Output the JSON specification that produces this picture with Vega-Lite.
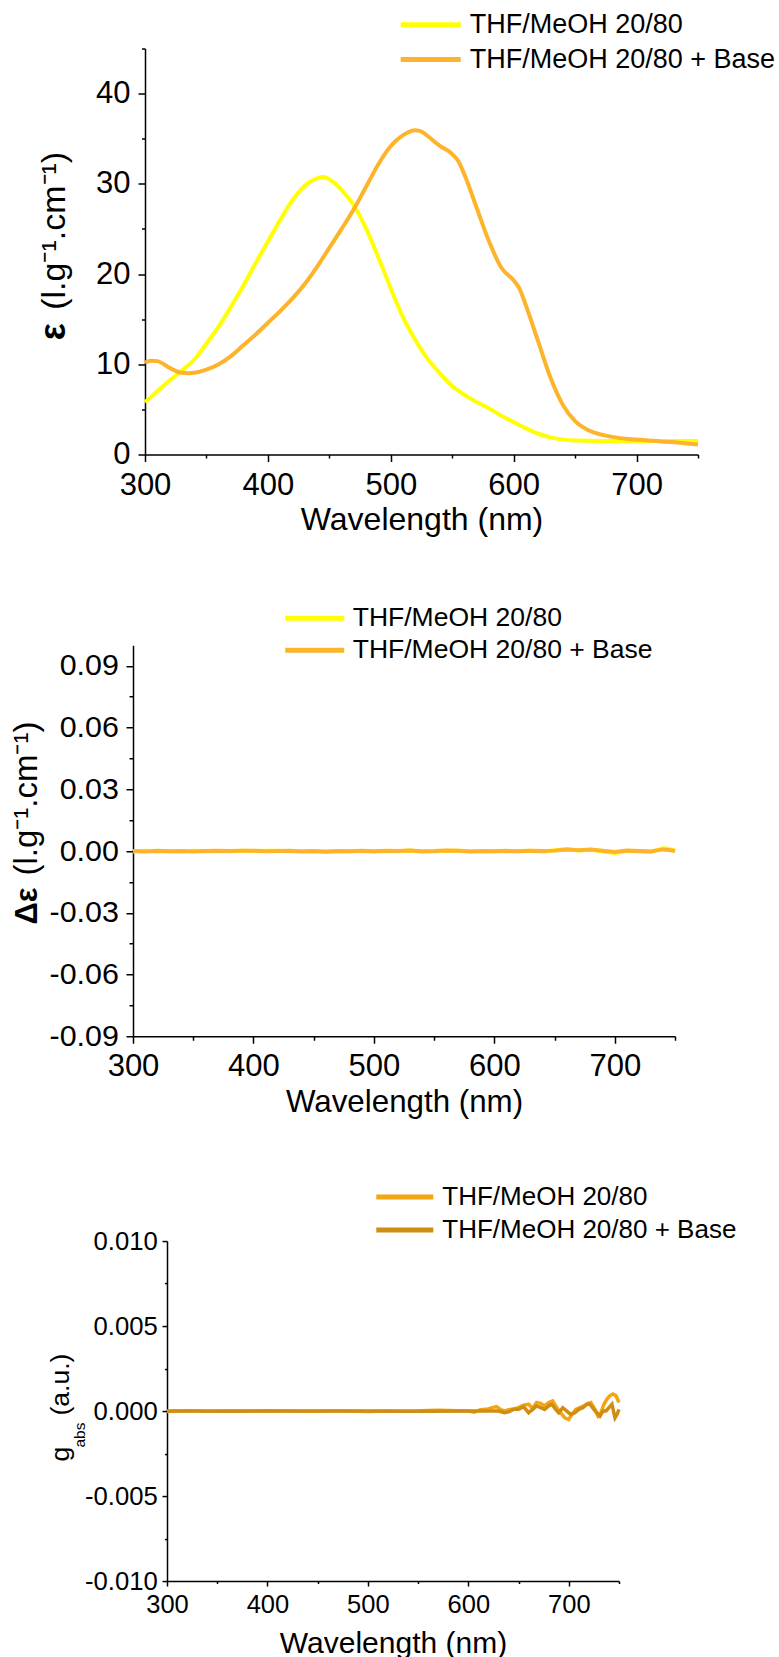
{
  "$schema": "https://vega.github.io/schema/vega-lite/v6.json",
  "background": "white",
  "padding": {"top": 10.5, "left": 0, "right": 0, "bottom": 0},
  "config": {
    "view": {"stroke": null},
    "font": "Liberation Sans",
    "axis": {
      "grid": false,
      "domainColor": "black",
      "domainWidth": 1.5,
      "tickColor": "black",
      "tickWidth": 1.5,
      "labelColor": "black",
      "titleColor": "black",
      "labelFont": "Liberation Sans",
      "titleFont": "Liberation Sans",
      "titleFontWeight": "normal",
      "labelFlush": false,
      "labelOverlap": false
    },
    "legend": {
      "labelFont": "Liberation Sans",
      "labelColor": "black",
      "labelLimit": 600,
      "padding": 0,
      "symbolType": "M-3,0H3",
      "title": null
    }
  },
  "datasets": {
    "eps": [
      {"nm": 300, "sample": "THF/MeOH 20/80", "v": 5.8},
      {"nm": 310, "sample": "THF/MeOH 20/80", "v": 7.0},
      {"nm": 320, "sample": "THF/MeOH 20/80", "v": 8.2},
      {"nm": 330, "sample": "THF/MeOH 20/80", "v": 9.3},
      {"nm": 340, "sample": "THF/MeOH 20/80", "v": 10.5},
      {"nm": 350, "sample": "THF/MeOH 20/80", "v": 12.3},
      {"nm": 360, "sample": "THF/MeOH 20/80", "v": 14.2},
      {"nm": 370, "sample": "THF/MeOH 20/80", "v": 16.4},
      {"nm": 380, "sample": "THF/MeOH 20/80", "v": 18.7},
      {"nm": 390, "sample": "THF/MeOH 20/80", "v": 21.2},
      {"nm": 400, "sample": "THF/MeOH 20/80", "v": 23.6},
      {"nm": 410, "sample": "THF/MeOH 20/80", "v": 26.0},
      {"nm": 420, "sample": "THF/MeOH 20/80", "v": 28.2},
      {"nm": 430, "sample": "THF/MeOH 20/80", "v": 29.8},
      {"nm": 440, "sample": "THF/MeOH 20/80", "v": 30.6},
      {"nm": 445, "sample": "THF/MeOH 20/80", "v": 30.75},
      {"nm": 450, "sample": "THF/MeOH 20/80", "v": 30.5},
      {"nm": 460, "sample": "THF/MeOH 20/80", "v": 29.3},
      {"nm": 470, "sample": "THF/MeOH 20/80", "v": 27.6},
      {"nm": 480, "sample": "THF/MeOH 20/80", "v": 25.0},
      {"nm": 490, "sample": "THF/MeOH 20/80", "v": 21.8},
      {"nm": 500, "sample": "THF/MeOH 20/80", "v": 18.4},
      {"nm": 510, "sample": "THF/MeOH 20/80", "v": 15.2},
      {"nm": 520, "sample": "THF/MeOH 20/80", "v": 12.7},
      {"nm": 530, "sample": "THF/MeOH 20/80", "v": 10.6},
      {"nm": 540, "sample": "THF/MeOH 20/80", "v": 9.0},
      {"nm": 550, "sample": "THF/MeOH 20/80", "v": 7.6},
      {"nm": 560, "sample": "THF/MeOH 20/80", "v": 6.6},
      {"nm": 570, "sample": "THF/MeOH 20/80", "v": 5.8},
      {"nm": 580, "sample": "THF/MeOH 20/80", "v": 5.1},
      {"nm": 590, "sample": "THF/MeOH 20/80", "v": 4.3},
      {"nm": 600, "sample": "THF/MeOH 20/80", "v": 3.6},
      {"nm": 610, "sample": "THF/MeOH 20/80", "v": 2.9},
      {"nm": 620, "sample": "THF/MeOH 20/80", "v": 2.3},
      {"nm": 630, "sample": "THF/MeOH 20/80", "v": 1.9},
      {"nm": 640, "sample": "THF/MeOH 20/80", "v": 1.65},
      {"nm": 650, "sample": "THF/MeOH 20/80", "v": 1.55},
      {"nm": 670, "sample": "THF/MeOH 20/80", "v": 1.5},
      {"nm": 700, "sample": "THF/MeOH 20/80", "v": 1.5},
      {"nm": 750, "sample": "THF/MeOH 20/80", "v": 1.5},
      {"nm": 300, "sample": "THF/MeOH 20/80 + Base", "v": 10.2},
      {"nm": 305, "sample": "THF/MeOH 20/80 + Base", "v": 10.4},
      {"nm": 310, "sample": "THF/MeOH 20/80 + Base", "v": 10.35},
      {"nm": 320, "sample": "THF/MeOH 20/80 + Base", "v": 9.6},
      {"nm": 330, "sample": "THF/MeOH 20/80 + Base", "v": 9.05},
      {"nm": 335, "sample": "THF/MeOH 20/80 + Base", "v": 9.0},
      {"nm": 340, "sample": "THF/MeOH 20/80 + Base", "v": 9.05},
      {"nm": 350, "sample": "THF/MeOH 20/80 + Base", "v": 9.4},
      {"nm": 360, "sample": "THF/MeOH 20/80 + Base", "v": 10.0},
      {"nm": 370, "sample": "THF/MeOH 20/80 + Base", "v": 10.9},
      {"nm": 380, "sample": "THF/MeOH 20/80 + Base", "v": 12.1},
      {"nm": 390, "sample": "THF/MeOH 20/80 + Base", "v": 13.3},
      {"nm": 400, "sample": "THF/MeOH 20/80 + Base", "v": 14.6},
      {"nm": 410, "sample": "THF/MeOH 20/80 + Base", "v": 15.9},
      {"nm": 420, "sample": "THF/MeOH 20/80 + Base", "v": 17.3},
      {"nm": 430, "sample": "THF/MeOH 20/80 + Base", "v": 18.9},
      {"nm": 440, "sample": "THF/MeOH 20/80 + Base", "v": 20.8},
      {"nm": 450, "sample": "THF/MeOH 20/80 + Base", "v": 22.9},
      {"nm": 460, "sample": "THF/MeOH 20/80 + Base", "v": 25.0},
      {"nm": 470, "sample": "THF/MeOH 20/80 + Base", "v": 27.2},
      {"nm": 480, "sample": "THF/MeOH 20/80 + Base", "v": 29.7},
      {"nm": 490, "sample": "THF/MeOH 20/80 + Base", "v": 32.2},
      {"nm": 500, "sample": "THF/MeOH 20/80 + Base", "v": 34.2},
      {"nm": 510, "sample": "THF/MeOH 20/80 + Base", "v": 35.4},
      {"nm": 520, "sample": "THF/MeOH 20/80 + Base", "v": 35.95},
      {"nm": 525, "sample": "THF/MeOH 20/80 + Base", "v": 35.8},
      {"nm": 530, "sample": "THF/MeOH 20/80 + Base", "v": 35.3},
      {"nm": 540, "sample": "THF/MeOH 20/80 + Base", "v": 34.2},
      {"nm": 550, "sample": "THF/MeOH 20/80 + Base", "v": 33.3},
      {"nm": 555, "sample": "THF/MeOH 20/80 + Base", "v": 32.5},
      {"nm": 560, "sample": "THF/MeOH 20/80 + Base", "v": 31.0},
      {"nm": 570, "sample": "THF/MeOH 20/80 + Base", "v": 27.3},
      {"nm": 580, "sample": "THF/MeOH 20/80 + Base", "v": 23.6},
      {"nm": 590, "sample": "THF/MeOH 20/80 + Base", "v": 20.7},
      {"nm": 600, "sample": "THF/MeOH 20/80 + Base", "v": 19.3},
      {"nm": 605, "sample": "THF/MeOH 20/80 + Base", "v": 18.3},
      {"nm": 610, "sample": "THF/MeOH 20/80 + Base", "v": 16.5},
      {"nm": 620, "sample": "THF/MeOH 20/80 + Base", "v": 12.5},
      {"nm": 630, "sample": "THF/MeOH 20/80 + Base", "v": 8.5},
      {"nm": 640, "sample": "THF/MeOH 20/80 + Base", "v": 5.5},
      {"nm": 650, "sample": "THF/MeOH 20/80 + Base", "v": 3.7},
      {"nm": 660, "sample": "THF/MeOH 20/80 + Base", "v": 2.75},
      {"nm": 670, "sample": "THF/MeOH 20/80 + Base", "v": 2.25},
      {"nm": 680, "sample": "THF/MeOH 20/80 + Base", "v": 1.95},
      {"nm": 700, "sample": "THF/MeOH 20/80 + Base", "v": 1.65},
      {"nm": 720, "sample": "THF/MeOH 20/80 + Base", "v": 1.45},
      {"nm": 735, "sample": "THF/MeOH 20/80 + Base", "v": 1.3},
      {"nm": 750, "sample": "THF/MeOH 20/80 + Base", "v": 1.1}
    ],
    "deps": [
      {"nm": 300, "sample": "THF/MeOH 20/80", "v": -0.0002},
      {"nm": 310, "sample": "THF/MeOH 20/80", "v": 0.0001},
      {"nm": 320, "sample": "THF/MeOH 20/80", "v": -0.0003},
      {"nm": 330, "sample": "THF/MeOH 20/80", "v": 0.0},
      {"nm": 340, "sample": "THF/MeOH 20/80", "v": -0.0002},
      {"nm": 350, "sample": "THF/MeOH 20/80", "v": 0.0001},
      {"nm": 360, "sample": "THF/MeOH 20/80", "v": -0.0001},
      {"nm": 370, "sample": "THF/MeOH 20/80", "v": 0.0},
      {"nm": 380, "sample": "THF/MeOH 20/80", "v": -0.0002},
      {"nm": 390, "sample": "THF/MeOH 20/80", "v": 0.0002},
      {"nm": 400, "sample": "THF/MeOH 20/80", "v": 0.0},
      {"nm": 410, "sample": "THF/MeOH 20/80", "v": 0.0001},
      {"nm": 420, "sample": "THF/MeOH 20/80", "v": 0.0002},
      {"nm": 430, "sample": "THF/MeOH 20/80", "v": -0.0001},
      {"nm": 440, "sample": "THF/MeOH 20/80", "v": 0.0},
      {"nm": 450, "sample": "THF/MeOH 20/80", "v": -0.0003},
      {"nm": 460, "sample": "THF/MeOH 20/80", "v": -0.0001},
      {"nm": 470, "sample": "THF/MeOH 20/80", "v": -0.0002},
      {"nm": 480, "sample": "THF/MeOH 20/80", "v": 0.0},
      {"nm": 490, "sample": "THF/MeOH 20/80", "v": -0.0001},
      {"nm": 500, "sample": "THF/MeOH 20/80", "v": -0.0002},
      {"nm": 510, "sample": "THF/MeOH 20/80", "v": 0.0},
      {"nm": 520, "sample": "THF/MeOH 20/80", "v": -0.0001},
      {"nm": 530, "sample": "THF/MeOH 20/80", "v": 0.0002},
      {"nm": 540, "sample": "THF/MeOH 20/80", "v": -0.0003},
      {"nm": 550, "sample": "THF/MeOH 20/80", "v": -0.0002},
      {"nm": 560, "sample": "THF/MeOH 20/80", "v": 0.0001},
      {"nm": 570, "sample": "THF/MeOH 20/80", "v": 0.0002},
      {"nm": 580, "sample": "THF/MeOH 20/80", "v": -0.0001},
      {"nm": 590, "sample": "THF/MeOH 20/80", "v": -0.0002},
      {"nm": 600, "sample": "THF/MeOH 20/80", "v": 0.0},
      {"nm": 610, "sample": "THF/MeOH 20/80", "v": -0.0002},
      {"nm": 620, "sample": "THF/MeOH 20/80", "v": 0.0},
      {"nm": 630, "sample": "THF/MeOH 20/80", "v": 0.0001},
      {"nm": 640, "sample": "THF/MeOH 20/80", "v": -0.0003},
      {"nm": 650, "sample": "THF/MeOH 20/80", "v": 0.0004},
      {"nm": 660, "sample": "THF/MeOH 20/80", "v": 0.001},
      {"nm": 670, "sample": "THF/MeOH 20/80", "v": 0.0003},
      {"nm": 680, "sample": "THF/MeOH 20/80", "v": 0.0006},
      {"nm": 690, "sample": "THF/MeOH 20/80", "v": -0.0002},
      {"nm": 700, "sample": "THF/MeOH 20/80", "v": -0.001},
      {"nm": 710, "sample": "THF/MeOH 20/80", "v": 0.0},
      {"nm": 720, "sample": "THF/MeOH 20/80", "v": -0.0002},
      {"nm": 730, "sample": "THF/MeOH 20/80", "v": -0.0004},
      {"nm": 740, "sample": "THF/MeOH 20/80", "v": 0.0014},
      {"nm": 745, "sample": "THF/MeOH 20/80", "v": 0.0011},
      {"nm": 750, "sample": "THF/MeOH 20/80", "v": 0.0002},
      {"nm": 300, "sample": "THF/MeOH 20/80 + Base", "v": 0.0},
      {"nm": 310, "sample": "THF/MeOH 20/80 + Base", "v": -0.0002},
      {"nm": 320, "sample": "THF/MeOH 20/80 + Base", "v": 0.0001},
      {"nm": 330, "sample": "THF/MeOH 20/80 + Base", "v": -0.0001},
      {"nm": 340, "sample": "THF/MeOH 20/80 + Base", "v": 0.0},
      {"nm": 350, "sample": "THF/MeOH 20/80 + Base", "v": -0.0002},
      {"nm": 360, "sample": "THF/MeOH 20/80 + Base", "v": 0.0},
      {"nm": 370, "sample": "THF/MeOH 20/80 + Base", "v": 0.0002},
      {"nm": 380, "sample": "THF/MeOH 20/80 + Base", "v": 0.0},
      {"nm": 390, "sample": "THF/MeOH 20/80 + Base", "v": 0.0001},
      {"nm": 400, "sample": "THF/MeOH 20/80 + Base", "v": 0.0002},
      {"nm": 410, "sample": "THF/MeOH 20/80 + Base", "v": -0.0001},
      {"nm": 420, "sample": "THF/MeOH 20/80 + Base", "v": 0.0},
      {"nm": 430, "sample": "THF/MeOH 20/80 + Base", "v": 0.0001},
      {"nm": 440, "sample": "THF/MeOH 20/80 + Base", "v": -0.0002},
      {"nm": 450, "sample": "THF/MeOH 20/80 + Base", "v": 0.0},
      {"nm": 460, "sample": "THF/MeOH 20/80 + Base", "v": -0.0003},
      {"nm": 470, "sample": "THF/MeOH 20/80 + Base", "v": 0.0},
      {"nm": 480, "sample": "THF/MeOH 20/80 + Base", "v": -0.0001},
      {"nm": 490, "sample": "THF/MeOH 20/80 + Base", "v": 0.0001},
      {"nm": 500, "sample": "THF/MeOH 20/80 + Base", "v": -0.0001},
      {"nm": 510, "sample": "THF/MeOH 20/80 + Base", "v": 0.0001},
      {"nm": 520, "sample": "THF/MeOH 20/80 + Base", "v": 0.0},
      {"nm": 530, "sample": "THF/MeOH 20/80 + Base", "v": 0.0003},
      {"nm": 540, "sample": "THF/MeOH 20/80 + Base", "v": -0.0001},
      {"nm": 550, "sample": "THF/MeOH 20/80 + Base", "v": 0.0},
      {"nm": 560, "sample": "THF/MeOH 20/80 + Base", "v": 0.0003},
      {"nm": 570, "sample": "THF/MeOH 20/80 + Base", "v": 0.0001},
      {"nm": 580, "sample": "THF/MeOH 20/80 + Base", "v": -0.0002},
      {"nm": 590, "sample": "THF/MeOH 20/80 + Base", "v": 0.0},
      {"nm": 600, "sample": "THF/MeOH 20/80 + Base", "v": -0.0001},
      {"nm": 610, "sample": "THF/MeOH 20/80 + Base", "v": 0.0001},
      {"nm": 620, "sample": "THF/MeOH 20/80 + Base", "v": -0.0001},
      {"nm": 630, "sample": "THF/MeOH 20/80 + Base", "v": 0.0002},
      {"nm": 640, "sample": "THF/MeOH 20/80 + Base", "v": 0.0},
      {"nm": 650, "sample": "THF/MeOH 20/80 + Base", "v": 0.0002},
      {"nm": 660, "sample": "THF/MeOH 20/80 + Base", "v": 0.0008},
      {"nm": 670, "sample": "THF/MeOH 20/80 + Base", "v": 0.0004},
      {"nm": 680, "sample": "THF/MeOH 20/80 + Base", "v": 0.0007},
      {"nm": 690, "sample": "THF/MeOH 20/80 + Base", "v": 0.0001},
      {"nm": 700, "sample": "THF/MeOH 20/80 + Base", "v": -0.0005},
      {"nm": 710, "sample": "THF/MeOH 20/80 + Base", "v": 0.0002},
      {"nm": 720, "sample": "THF/MeOH 20/80 + Base", "v": 0.0},
      {"nm": 730, "sample": "THF/MeOH 20/80 + Base", "v": -0.0002},
      {"nm": 740, "sample": "THF/MeOH 20/80 + Base", "v": 0.0008},
      {"nm": 745, "sample": "THF/MeOH 20/80 + Base", "v": 0.0005},
      {"nm": 750, "sample": "THF/MeOH 20/80 + Base", "v": 0.0}
    ],
    "gabs": [
      {"nm": 300, "sample": "THF/MeOH 20/80", "v": -0.00002},
      {"nm": 320, "sample": "THF/MeOH 20/80", "v": 0.00002},
      {"nm": 340, "sample": "THF/MeOH 20/80", "v": -0.00001},
      {"nm": 360, "sample": "THF/MeOH 20/80", "v": 0.00002},
      {"nm": 380, "sample": "THF/MeOH 20/80", "v": 0.0},
      {"nm": 400, "sample": "THF/MeOH 20/80", "v": 0.00002},
      {"nm": 420, "sample": "THF/MeOH 20/80", "v": 0.00001},
      {"nm": 440, "sample": "THF/MeOH 20/80", "v": -0.00001},
      {"nm": 460, "sample": "THF/MeOH 20/80", "v": 0.0},
      {"nm": 480, "sample": "THF/MeOH 20/80", "v": 0.00001},
      {"nm": 500, "sample": "THF/MeOH 20/80", "v": -0.00002},
      {"nm": 520, "sample": "THF/MeOH 20/80", "v": 0.0},
      {"nm": 540, "sample": "THF/MeOH 20/80", "v": -0.00001},
      {"nm": 560, "sample": "THF/MeOH 20/80", "v": 0.00003},
      {"nm": 570, "sample": "THF/MeOH 20/80", "v": 0.00005},
      {"nm": 580, "sample": "THF/MeOH 20/80", "v": 0.00003},
      {"nm": 590, "sample": "THF/MeOH 20/80", "v": 0.00002},
      {"nm": 600, "sample": "THF/MeOH 20/80", "v": 0.0},
      {"nm": 606, "sample": "THF/MeOH 20/80", "v": -0.00006},
      {"nm": 612, "sample": "THF/MeOH 20/80", "v": 0.00008},
      {"nm": 618, "sample": "THF/MeOH 20/80", "v": 0.0001},
      {"nm": 624, "sample": "THF/MeOH 20/80", "v": 0.0002},
      {"nm": 628, "sample": "THF/MeOH 20/80", "v": 0.00026},
      {"nm": 632, "sample": "THF/MeOH 20/80", "v": 0.0001},
      {"nm": 636, "sample": "THF/MeOH 20/80", "v": 0.0},
      {"nm": 640, "sample": "THF/MeOH 20/80", "v": 0.00008},
      {"nm": 645, "sample": "THF/MeOH 20/80", "v": 0.00012},
      {"nm": 650, "sample": "THF/MeOH 20/80", "v": 0.0002},
      {"nm": 655, "sample": "THF/MeOH 20/80", "v": 0.00035},
      {"nm": 660, "sample": "THF/MeOH 20/80", "v": 0.0004},
      {"nm": 664, "sample": "THF/MeOH 20/80", "v": 0.00015},
      {"nm": 668, "sample": "THF/MeOH 20/80", "v": 0.0005},
      {"nm": 672, "sample": "THF/MeOH 20/80", "v": 0.00045},
      {"nm": 676, "sample": "THF/MeOH 20/80", "v": 0.0003},
      {"nm": 680, "sample": "THF/MeOH 20/80", "v": 0.0005},
      {"nm": 684, "sample": "THF/MeOH 20/80", "v": 0.0006},
      {"nm": 688, "sample": "THF/MeOH 20/80", "v": 0.0002},
      {"nm": 692, "sample": "THF/MeOH 20/80", "v": -0.0001},
      {"nm": 696, "sample": "THF/MeOH 20/80", "v": -0.0004},
      {"nm": 700, "sample": "THF/MeOH 20/80", "v": -0.0005},
      {"nm": 703, "sample": "THF/MeOH 20/80", "v": -0.0002},
      {"nm": 707, "sample": "THF/MeOH 20/80", "v": 0.0001},
      {"nm": 711, "sample": "THF/MeOH 20/80", "v": 0.0002},
      {"nm": 715, "sample": "THF/MeOH 20/80", "v": 0.0003},
      {"nm": 719, "sample": "THF/MeOH 20/80", "v": 0.00045},
      {"nm": 722, "sample": "THF/MeOH 20/80", "v": 0.0005},
      {"nm": 726, "sample": "THF/MeOH 20/80", "v": 0.0001},
      {"nm": 729, "sample": "THF/MeOH 20/80", "v": -0.0003},
      {"nm": 732, "sample": "THF/MeOH 20/80", "v": -0.0001},
      {"nm": 735, "sample": "THF/MeOH 20/80", "v": 0.0004},
      {"nm": 738, "sample": "THF/MeOH 20/80", "v": 0.0007},
      {"nm": 741, "sample": "THF/MeOH 20/80", "v": 0.0009},
      {"nm": 744, "sample": "THF/MeOH 20/80", "v": 0.001},
      {"nm": 747, "sample": "THF/MeOH 20/80", "v": 0.0009},
      {"nm": 750, "sample": "THF/MeOH 20/80", "v": 0.0005},
      {"nm": 300, "sample": "THF/MeOH 20/80 + Base", "v": 0.0},
      {"nm": 330, "sample": "THF/MeOH 20/80 + Base", "v": 0.00001},
      {"nm": 360, "sample": "THF/MeOH 20/80 + Base", "v": -0.00001},
      {"nm": 400, "sample": "THF/MeOH 20/80 + Base", "v": 0.00001},
      {"nm": 450, "sample": "THF/MeOH 20/80 + Base", "v": 0.0},
      {"nm": 500, "sample": "THF/MeOH 20/80 + Base", "v": 0.00001},
      {"nm": 550, "sample": "THF/MeOH 20/80 + Base", "v": -0.00001},
      {"nm": 600, "sample": "THF/MeOH 20/80 + Base", "v": 0.0},
      {"nm": 620, "sample": "THF/MeOH 20/80 + Base", "v": 0.00001},
      {"nm": 630, "sample": "THF/MeOH 20/80 + Base", "v": 0.0},
      {"nm": 636, "sample": "THF/MeOH 20/80 + Base", "v": -0.0001},
      {"nm": 640, "sample": "THF/MeOH 20/80 + Base", "v": -0.00005},
      {"nm": 645, "sample": "THF/MeOH 20/80 + Base", "v": 0.0001},
      {"nm": 650, "sample": "THF/MeOH 20/80 + Base", "v": 0.0001},
      {"nm": 655, "sample": "THF/MeOH 20/80 + Base", "v": 0.00025},
      {"nm": 660, "sample": "THF/MeOH 20/80 + Base", "v": -0.0001},
      {"nm": 664, "sample": "THF/MeOH 20/80 + Base", "v": 0.0001},
      {"nm": 668, "sample": "THF/MeOH 20/80 + Base", "v": 0.0003},
      {"nm": 672, "sample": "THF/MeOH 20/80 + Base", "v": 0.0002},
      {"nm": 676, "sample": "THF/MeOH 20/80 + Base", "v": 0.0001},
      {"nm": 680, "sample": "THF/MeOH 20/80 + Base", "v": 0.0003},
      {"nm": 683, "sample": "THF/MeOH 20/80 + Base", "v": 0.0004},
      {"nm": 687, "sample": "THF/MeOH 20/80 + Base", "v": 0.0001},
      {"nm": 690, "sample": "THF/MeOH 20/80 + Base", "v": -0.0001},
      {"nm": 694, "sample": "THF/MeOH 20/80 + Base", "v": 0.0002},
      {"nm": 698, "sample": "THF/MeOH 20/80 + Base", "v": 0.0},
      {"nm": 702, "sample": "THF/MeOH 20/80 + Base", "v": -0.0002},
      {"nm": 706, "sample": "THF/MeOH 20/80 + Base", "v": -0.0001},
      {"nm": 710, "sample": "THF/MeOH 20/80 + Base", "v": 0.0001},
      {"nm": 714, "sample": "THF/MeOH 20/80 + Base", "v": 0.0002},
      {"nm": 718, "sample": "THF/MeOH 20/80 + Base", "v": 0.0004},
      {"nm": 721, "sample": "THF/MeOH 20/80 + Base", "v": 0.0004},
      {"nm": 725, "sample": "THF/MeOH 20/80 + Base", "v": 0.0001},
      {"nm": 728, "sample": "THF/MeOH 20/80 + Base", "v": -0.0001},
      {"nm": 731, "sample": "THF/MeOH 20/80 + Base", "v": -0.0003},
      {"nm": 734, "sample": "THF/MeOH 20/80 + Base", "v": 0.0},
      {"nm": 737, "sample": "THF/MeOH 20/80 + Base", "v": 0.0},
      {"nm": 740, "sample": "THF/MeOH 20/80 + Base", "v": 0.0002},
      {"nm": 743, "sample": "THF/MeOH 20/80 + Base", "v": 0.0004},
      {"nm": 746, "sample": "THF/MeOH 20/80 + Base", "v": -0.0004},
      {"nm": 748, "sample": "THF/MeOH 20/80 + Base", "v": -0.0002},
      {"nm": 750, "sample": "THF/MeOH 20/80 + Base", "v": 0.0001}
    ]
  },
  "spacing": 67.75,
  "resolve": {"scale": {"color": "independent", "x": "independent", "y": "independent"}},
  "vconcat": [
    {
      "spacing": 0,
      "resolve": {"scale": {"color": "independent", "x": "independent", "y": "independent"}},
      "hconcat": [
        {"width": 34.5, "height": 10, "data": {"values": [{}]}, "mark": {"type": "point", "opacity": 0}},
        {
          "width": 553,
          "height": 406,
          "data": {"name": "eps"},
          "encoding": {
            "color": {
              "field": "sample", "type": "nominal",
              "scale": {"domain": ["THF/MeOH 20/80", "THF/MeOH 20/80 + Base"], "range": ["#FFFF00", "#FDB42B"]},
              "legend": {"orient": "none", "legendX": 272.2, "legendY": -37.2, "symbolSize": 400, "symbolStrokeWidth": 5, "labelFontSize": 27, "labelOffset": 25.5, "rowPadding": 6.7}
            }
          },
          "resolve": {"axis": {"x": "independent", "y": "independent"}},
          "layer": [
            {
              "transform": [{"filter": "datum.sample === 'THF/MeOH 20/80'"}],
              "mark": {"type": "line", "strokeWidth": 4, "interpolate": "monotone"},
              "encoding": {
                "x": {"field": "nm", "type": "quantitative", "scale": {"domain": [300, 750], "nice": false, "zero": false},
                  "axis": {"orient": "bottom", "values": [300, 400, 500, 600, 700], "tickSize": 7, "labelPadding": 9, "labelFontSize": 31, "title": "Wavelength (nm)", "titleFontSize": 32, "titleY": 50.4, "titleBaseline": "top"}},
                "y": {"field": "v", "type": "quantitative", "scale": {"domain": [0, 45], "nice": false, "zero": false},
                  "axis": {"orient": "left", "values": [0, 10, 20, 30, 40], "tickSize": 7, "labelPadding": 8, "labelFontSize": 31, "title": "(l.g⁻¹.cm⁻¹)", "titleFontSize": 34, "titleAngle": 270, "titleAlign": "center", "titleBaseline": "alphabetic", "titleX": -80.8, "titleY": 181.8}}
              }
            },
            {
              "transform": [{"filter": "datum.sample === 'THF/MeOH 20/80 + Base'"}],
              "mark": {"type": "line", "strokeWidth": 4, "interpolate": "monotone"},
              "encoding": {
                "x": {"field": "nm", "type": "quantitative", "scale": {"domain": [300, 750], "nice": false, "zero": false},
                  "axis": {"orient": "bottom", "values": [350, 450, 550, 650, 750], "tickSize": 3.5, "labels": false, "domain": false, "title": null}},
                "y": {"field": "v", "type": "quantitative", "scale": {"domain": [0, 45], "nice": false, "zero": false},
                  "axis": {"orient": "left", "values": [5, 15, 25, 35, 45], "tickSize": 3.5, "labels": false, "domain": false, "title": "ε", "titleFontSize": 36, "titleFontWeight": "bold", "titleAngle": 270, "titleAlign": "center", "titleBaseline": "alphabetic", "titleX": -80.8, "titleY": 282.8}}
              }
            }
          ]
        }
      ]
    },
    {
      "spacing": 65.8,
      "resolve": {"scale": {"color": "independent", "x": "independent", "y": "independent"}},
      "vconcat": [
        {
          "spacing": 0,
          "resolve": {"scale": {"color": "independent", "x": "independent", "y": "independent"}},
          "hconcat": [
            {"width": 9.5, "height": 10, "data": {"values": [{}]}, "mark": {"type": "point", "opacity": 0}},
            {
              "width": 542,
              "height": 391,
              "data": {"name": "deps"},
              "encoding": {
                "color": {
                  "field": "sample", "type": "nominal",
                  "scale": {"domain": ["THF/MeOH 20/80", "THF/MeOH 20/80 + Base"], "range": ["#FFFF00", "#FDB42B"]},
                  "legend": {"orient": "none", "legendX": 168.5, "legendY": -40.25, "symbolSize": 387, "symbolStrokeWidth": 5, "labelFontSize": 26.5, "labelOffset": 24.75, "rowPadding": 5}
                }
              },
              "resolve": {"axis": {"x": "independent", "y": "independent"}},
              "layer": [
                {
                  "transform": [{"filter": "datum.sample === 'THF/MeOH 20/80'"}],
                  "mark": {"type": "line", "strokeWidth": 4},
                  "encoding": {
                    "x": {"field": "nm", "type": "quantitative", "scale": {"domain": [300, 750], "nice": false, "zero": false},
                      "axis": {"orient": "bottom", "values": [300, 400, 500, 600, 700], "tickSize": 7, "labelPadding": 8, "labelFontSize": 31, "title": "Wavelength (nm)", "titleFontSize": 31.3, "titleY": 50.7, "titleBaseline": "top"}},
                    "y": {"field": "v", "type": "quantitative", "scale": {"domain": [-0.09, 0.1], "nice": false, "zero": false},
                      "axis": {"orient": "left", "values": [-0.09, -0.06, -0.03, 0, 0.03, 0.06, 0.09], "labelExpr": "replace(format(datum.value, '.2f'), '−', '-')", "tickSize": 7, "labelPadding": 7.7, "labelFontSize": 30.4, "title": "(l.g⁻¹.cm⁻¹)", "titleFontSize": 33, "titleAngle": 270, "titleAlign": "center", "titleBaseline": "alphabetic", "titleX": -97, "titleY": 152.8}}
                  }
                },
                {
                  "transform": [{"filter": "datum.sample === 'THF/MeOH 20/80 + Base'"}],
                  "mark": {"type": "line", "strokeWidth": 4},
                  "encoding": {
                    "x": {"field": "nm", "type": "quantitative", "scale": {"domain": [300, 750], "nice": false, "zero": false},
                      "axis": {"orient": "bottom", "values": [350, 450, 550, 650, 750], "tickSize": 4, "labels": false, "domain": false, "title": null}},
                    "y": {"field": "v", "type": "quantitative", "scale": {"domain": [-0.09, 0.1], "nice": false, "zero": false},
                      "axis": {"orient": "left", "values": [-0.075, -0.045, -0.015, 0.015, 0.045, 0.075], "tickSize": 4, "labels": false, "domain": false, "title": "Δε", "titleFontSize": 31, "titleFontWeight": "bold", "titleAngle": 270, "titleAlign": "center", "titleBaseline": "alphabetic", "titleX": -97, "titleY": 260.3}}
                  }
                }
              ]
            }
          ]
        },
        {
          "spacing": 0,
          "resolve": {"scale": {"color": "independent", "x": "independent", "y": "independent"}},
          "hconcat": [
            {"width": 47, "height": 10, "data": {"values": [{}]}, "mark": {"type": "point", "opacity": 0}},
            {
              "width": 452,
              "height": 340,
              "data": {"name": "gabs"},
              "encoding": {
                "color": {
                  "field": "sample", "type": "nominal",
                  "scale": {"domain": ["THF/MeOH 20/80", "THF/MeOH 20/80 + Base"], "range": ["#F4A511", "#CF8D12"]},
                  "legend": {"orient": "none", "legendX": 224.8, "legendY": -57, "symbolSize": 361, "symbolStrokeWidth": 5, "labelFontSize": 26, "labelOffset": 24.5, "rowPadding": 7}
                }
              },
              "resolve": {"axis": {"x": "independent", "y": "independent"}},
              "layer": [
                {
                  "transform": [{"filter": "datum.sample === 'THF/MeOH 20/80'"}],
                  "mark": {"type": "line", "strokeWidth": 3.5},
                  "encoding": {
                    "x": {"field": "nm", "type": "quantitative", "scale": {"domain": [300, 750], "nice": false, "zero": false},
                      "axis": {"orient": "bottom", "values": [300, 400, 500, 600, 700], "tickSize": 5, "labelPadding": 6, "labelFontSize": 25.5, "title": "Wavelength (nm)", "titleFontSize": 30, "titleY": 47.6, "titleBaseline": "top"}},
                    "y": {"field": "v", "type": "quantitative", "scale": {"domain": [-0.01, 0.01], "nice": false, "zero": false},
                      "axis": {"orient": "left", "values": [-0.01, -0.005, 0, 0.005, 0.01], "labelExpr": "replace(format(datum.value, '.3f'), '−', '-')", "tickSize": 5, "labelPadding": 4.7, "labelFontSize": 25.7, "title": "(a.u.)", "titleFontSize": 26.5, "titleAngle": 270, "titleAlign": "center", "titleBaseline": "alphabetic", "titleX": -98.2, "titleY": 143}}
                  }
                },
                {
                  "transform": [{"filter": "datum.sample === 'THF/MeOH 20/80 + Base'"}],
                  "mark": {"type": "line", "strokeWidth": 3.5},
                  "encoding": {
                    "x": {"field": "nm", "type": "quantitative", "scale": {"domain": [300, 750], "nice": false, "zero": false},
                      "axis": {"orient": "bottom", "values": [350, 450, 550, 650, 750], "tickSize": 2.5, "labels": false, "domain": false, "title": "abs", "titleFontSize": 15.5, "titleAngle": 270, "titleAlign": "center", "titleBaseline": "alphabetic", "titleX": -82.7, "titleY": -146.5}},
                    "y": {"field": "v", "type": "quantitative", "scale": {"domain": [-0.01, 0.01], "nice": false, "zero": false},
                      "axis": {"orient": "left", "values": [-0.0075, -0.0025, 0.0025, 0.0075], "tickSize": 2.5, "labels": false, "domain": false, "title": "g", "titleFontSize": 26.5, "titleAngle": 270, "titleAlign": "center", "titleBaseline": "alphabetic", "titleX": -98.2, "titleY": 212.5}}
                  }
                }
              ]
            }
          ]
        }
      ]
    }
  ]
}
